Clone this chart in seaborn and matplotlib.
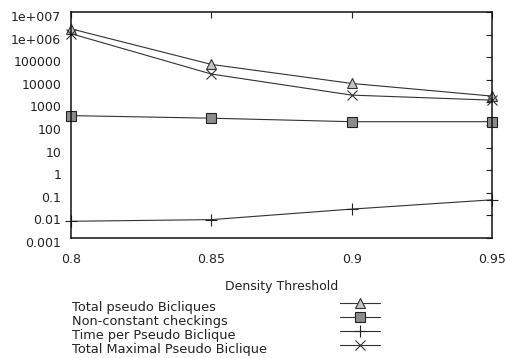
import numpy as np
import matplotlib
matplotlib.use("Agg")
import matplotlib.pyplot as plt
import matplotlib.transforms as mtransforms
from matplotlib.lines import Line2D
import seaborn as sns

# data
thresholds = [0.8, 0.85, 0.9, 0.95]
total_pseudo = [1.8e6, 48000, 6900, 1900]
non_constant = [260, 200, 140, 140]
time_per = [0.0055, 0.0065, 0.019, 0.049]
total_maximal = [1.1e6, 18000, 2100, 1260]

series_names = ["Total pseudo Bicliques", "Non-constant checkings",
                "Time per Pseudo Biclique", "Total Maximal Pseudo Biclique"]
x_ticks = [0.8, 0.85, 0.9, 0.95]
x_tick_labels = ["0.8", "0.85", "0.9", "0.95"]
y_ticks = [1e7, 1e6, 1e5, 1e4, 1e3, 1e2, 10, 1, 0.1, 0.01, 0.001]
y_tick_labels = ["1e+007", "1e+006", "100000", "10000", "1000", "100",
                 "10", "1", "0.1", "0.01", "0.001"]

sns.set_theme(style="white")
plt.rcParams["font.family"] = ["DejaVu Sans"]
plt.rcParams["text.color"] = "#222222"
plt.rcParams["axes.labelcolor"] = "#222222"
plt.rcParams["xtick.color"] = "#222222"
plt.rcParams["ytick.color"] = "#222222"

fig = plt.figure(figsize=(5.07, 3.58), dpi=100)
ax = fig.add_axes([71 / 507, 1 - 238 / 358, (492 - 71) / 507, (238 - 12) / 358])

line_kw = dict(color="#333333", lw=0.8, ms=7, mew=0.8, clip_on=False, ax=ax)
styles = [
    dict(marker="^", mfc="#c4c4c4", mec="#333333"),
    dict(marker="s", mfc="#8c8c8c", mec="#222222"),
    dict(marker="+", mfc="#222222", mec="#222222", ms=9),
    dict(marker="x", mfc="#222222", mec="#333333"),
]
all_vals = [total_pseudo, non_constant, time_per, total_maximal]
for vals, st in zip(all_vals, styles):
    kw = dict(line_kw)
    kw.update(st)
    sns.lineplot(x=thresholds, y=vals, **kw)

ax.set_yscale("log")
ax.set_xlim(0.8, 0.95)
ax.set_ylim(0.001, 1e7)
ax.set_xticks(x_ticks, x_tick_labels)
ax.set_yticks(y_ticks, y_tick_labels)
ax.minorticks_off()
ax.tick_params(axis="both", which="major", direction="in", length=4, width=0.8,
               top=True, right=True, labelsize=9)
ax.tick_params(axis="x", pad=11)
ax.tick_params(axis="y", pad=7)
for lab in ax.get_yticklabels():
    lab.set_transform(lab.get_transform() +
                      mtransforms.ScaledTranslation(0, -4 / 100, fig.dpi_scale_trans))
for sp in ax.spines.values():
    sp.set_color("#111111")
    sp.set_linewidth(1.1)
ax.set_xlabel("Density Threshold", fontsize=9, labelpad=10)
ax.set_ylabel("")

# gnuplot-style key below the plot: labels on the left, samples on the right
row_y = [307, 321, 335, 349]
for name, st, yy in zip(series_names, styles, row_y):
    fig.text(72 / 507, 1 - yy / 358, name, fontsize=9.3, va="center", ha="left")
    ly = 1 - (yy - 4) / 358
    fig.add_artist(Line2D([340 / 507, 380 / 507], [ly, ly], color="#333333", lw=0.8,
                          transform=fig.transFigure))
    fig.add_artist(Line2D([360 / 507], [ly], color="#333333", lw=0,
                          marker=st["marker"], mfc=st["mfc"], mec=st["mec"],
                          ms=st.get("ms", 7), mew=0.8, transform=fig.transFigure))

fig.savefig("out.png", dpi=100)
